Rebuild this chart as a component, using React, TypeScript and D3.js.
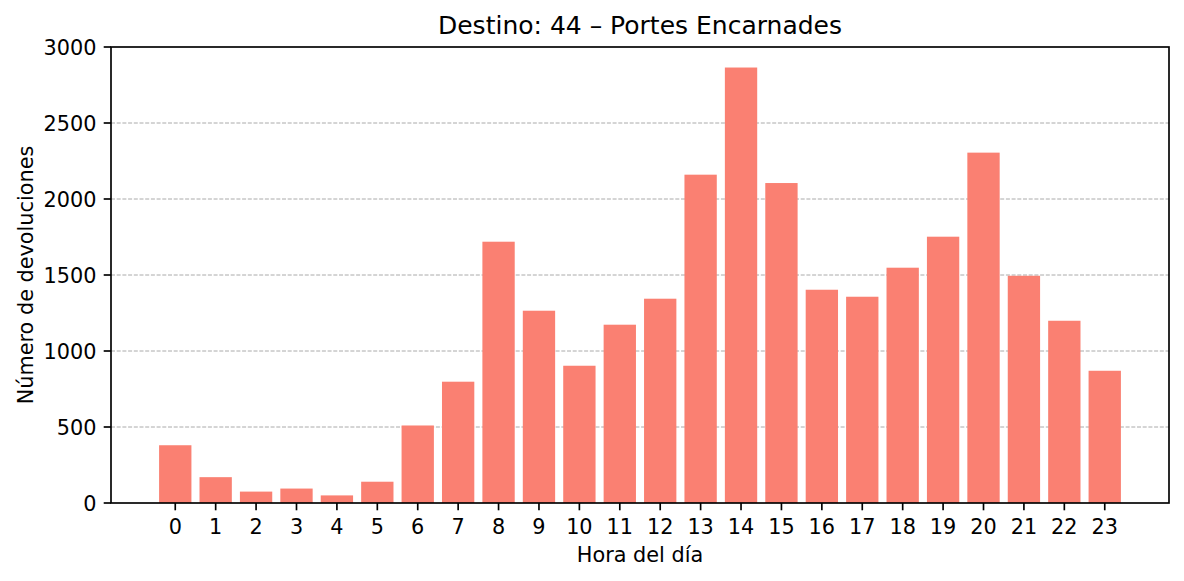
import * as d3 from 'd3';
import React, { useEffect, useRef } from 'react';

const hours: number[] = [0, 1, 2, 3, 4, 5, 6, 7, 8, 9, 10, 11, 12, 13, 14, 15, 16, 17, 18, 19, 20, 21, 22, 23];
const devoluciones: number[] = [380, 170, 75, 95, 50, 140, 510, 798, 1719, 1265, 903, 1173, 1344, 2160, 2865, 2105, 1403, 1357, 1548, 1752, 2305, 1495, 1199, 870];
const yTicks: number[] = [0, 500, 1000, 1500, 2000, 2500, 3000];

const title = 'Destino: 44 – Portes Encarnades';
const xLabel = 'Hora del día';
const yLabel = 'Número de devoluciones';

const App: React.FC = () => {
    const svgRef = useRef<SVGSVGElement>(null);

    useEffect(() => {
        if (!svgRef.current) return;
        d3.select(svgRef.current).selectAll('*').remove();

        const width = 1184;
        const height = 581;
        const left = 111;
        const right = 1169;
        const top = 47;
        const bottom = 503;
        const barWidth = 0.8;
        const font = 'DejaVu Sans, sans-serif';

        const svg = d3.select(svgRef.current)
            .attr('width', width)
            .attr('height', height)
            .style('font-family', font);

        // matplotlib-style 5% margins around the bars
        const lo = -barWidth / 2;
        const hi = hours.length - 1 + barWidth / 2;
        const pad = (hi - lo) * 0.05;
        const x = d3.scaleLinear().domain([lo - pad, hi + pad]).range([left, right]);
        const y = d3.scaleLinear().domain([0, 3000]).range([bottom, top]);

        // Grid (behind bars)
        svg.append('g')
            .selectAll('line')
            .data(yTicks.filter(t => t > 0 && t < 3000))
            .join('line')
            .attr('x1', left)
            .attr('x2', right)
            .attr('y1', d => y(d))
            .attr('y2', d => y(d))
            .attr('stroke', '#aaaaaa')
            .attr('stroke-width', 1)
            .attr('stroke-dasharray', '4,1.7');

        // Bars
        svg.append('g')
            .selectAll('rect')
            .data(hours)
            .join('rect')
            .attr('x', (d) => x(d - barWidth / 2))
            .attr('width', (d) => x(d + barWidth / 2) - x(d - barWidth / 2))
            .attr('y', (_, i) => y(devoluciones[i]))
            .attr('height', (_, i) => y(0) - y(devoluciones[i]))
            .attr('fill', '#fa8072');

        // Frame
        svg.append('rect')
            .attr('x', left)
            .attr('y', top)
            .attr('width', right - left)
            .attr('height', bottom - top)
            .attr('fill', 'none')
            .attr('stroke', '#000')
            .attr('stroke-width', 1.67);

        const tickLen = 7.3;

        // X ticks
        const xt = svg.append('g');
        hours.forEach((h) => {
            xt.append('line')
                .attr('x1', x(h)).attr('x2', x(h))
                .attr('y1', bottom).attr('y2', bottom + tickLen)
                .attr('stroke', '#000').attr('stroke-width', 1.67);
            xt.append('text')
                .attr('x', x(h))
                .attr('y', 534)
                .attr('text-anchor', 'middle')
                .attr('font-size', 20.8)
                .attr('fill', '#000')
                .text(String(h));
        });

        // Y ticks
        const yt = svg.append('g');
        yTicks.forEach((t) => {
            yt.append('line')
                .attr('x1', left - tickLen).attr('x2', left)
                .attr('y1', y(t)).attr('y2', y(t))
                .attr('stroke', '#000').attr('stroke-width', 1.67);
            yt.append('text')
                .attr('x', left - tickLen - 7.3)
                .attr('y', y(t) + 7.6)
                .attr('text-anchor', 'end')
                .attr('font-size', 20.8)
                .attr('fill', '#000')
                .text(String(t));
        });

        // Labels
        svg.append('text')
            .attr('x', (left + right) / 2)
            .attr('y', 562)
            .attr('text-anchor', 'middle')
            .attr('font-size', 20.8)
            .attr('fill', '#000')
            .text(xLabel);

        svg.append('text')
            .attr('transform', `translate(33, ${(top + bottom) / 2}) rotate(-90)`)
            .attr('text-anchor', 'middle')
            .attr('font-size', 20.8)
            .attr('fill', '#000')
            .text(yLabel);

        svg.append('text')
            .attr('x', (left + right) / 2)
            .attr('y', 34)
            .attr('text-anchor', 'middle')
            .attr('font-size', 25)
            .attr('fill', '#000')
            .text(title);
    }, []);

    return (
        <svg ref={svgRef} style={{ position: 'absolute', left: 0, top: 0, background: '#fff' }}></svg>
    );
};

export default App;
